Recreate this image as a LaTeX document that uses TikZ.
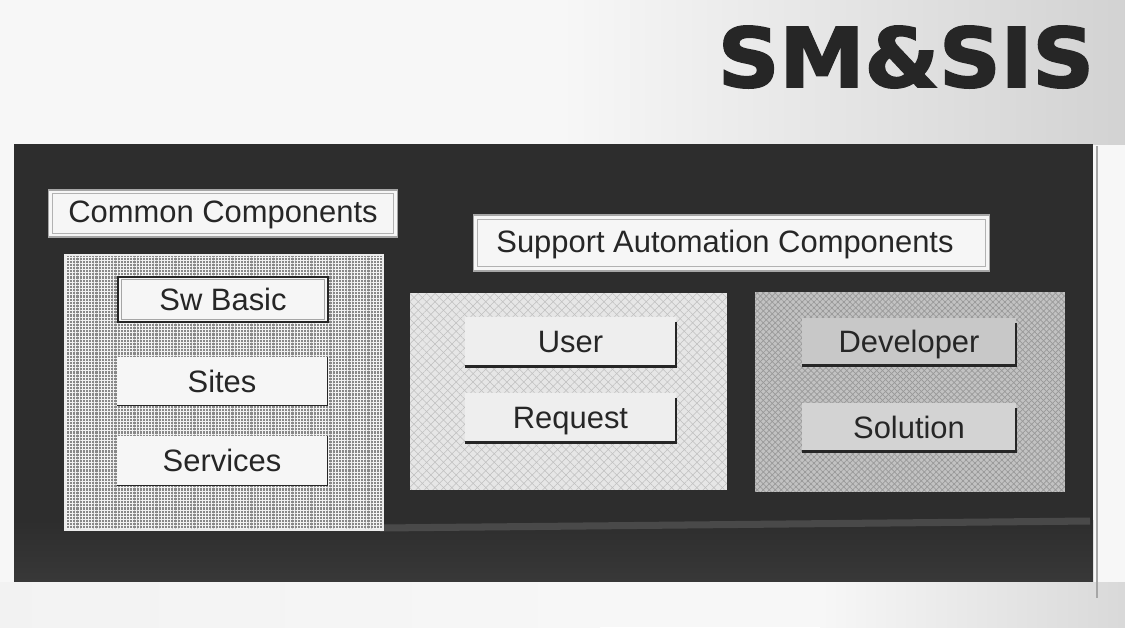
\documentclass[tikz,border=0pt]{standalone}
\usepackage{fontspec}
\setmainfont{Liberation Sans}
\newfontfamily\titlefont[BoldFeatures={FakeBold=2.2}]{DejaVu Sans}
\usetikzlibrary{patterns.meta}

\definecolor{paper}{HTML}{F7F7F7}
\definecolor{board}{HTML}{2D2D2D}
\definecolor{boardlight}{HTML}{383838}
\definecolor{inkdark}{HTML}{262626}
\definecolor{meshgray}{HTML}{888888}
\definecolor{lightpanel}{HTML}{E6E6E6}
\definecolor{midpanel}{HTML}{C2C2C2}
\definecolor{btnwhite}{HTML}{F6F6F6}
\definecolor{btnlight}{HTML}{EEEEEE}
\definecolor{btngray}{HTML}{C8C8C8}
\definecolor{btngray2}{HTML}{D3D3D3}

\begin{document}
\begin{tikzpicture}[x=0.02cm, y=-0.02cm,
  txt/.style={font=\fontsize{17.6}{20}\selectfont, text=inkdark, text height=12.6pt, text depth=0pt},
  board/.style={fill=board, inner sep=0pt},
  tag/.style={fill=btnwhite, draw=gray!70, line width=0.6pt, inner sep=0pt, txt},
  gridpanel/.style={inner sep=0pt,
    preaction={fill=meshgray},
    postaction={pattern={Lines[angle=0,distance=1.8pt,line width=0.55pt]}, pattern color=white!90!gray},
    postaction={pattern={Lines[angle=90,distance=1.8pt,line width=0.55pt]}, pattern color=white!90!gray},
    postaction={draw=white!85!gray, line width=1.2pt}},
  hatchlight/.style={inner sep=0pt,
    preaction={fill=lightpanel},
    postaction={pattern={Lines[angle=45,distance=3.4pt,line width=0.3pt]}, pattern color=gray!50},
    postaction={pattern={Lines[angle=-45,distance=3.4pt,line width=0.3pt]}, pattern color=gray!50}},
  hatchmid/.style={inner sep=0pt,
    preaction={fill=midpanel},
    postaction={pattern={Lines[angle=45,distance=2.4pt,line width=0.4pt]}, pattern color=gray!80},
    postaction={pattern={Lines[angle=-45,distance=2.4pt,line width=0.4pt]}, pattern color=gray!80}},
  btn/.style={inner sep=0pt, txt},
  edge/.style={draw=inkdark, line width=1.3pt},
]
\useasboundingbox (0,0) rectangle (1125,627);

% paper and its grey haze
\fill[paper] (0,0) rectangle (1125,627);
\shade[left color=paper, right color=gray!35] (560,0) rectangle (1125,144);
\shade[left color=paper, right color=gray!30] (820,582) rectangle (1125,627);
\shade[left color=gray!10, right color=paper] (0,582) rectangle (600,627);

% title
\node[font=\titlefont\bfseries\fontsize{46.8}{50}\selectfont, text=inkdark, xscale=1.04, inner sep=0pt]
  (title) at (906,57) {SM\&SIS};

% dark board with its lighter lower strip
\node[board, minimum width=21.58cm, minimum height=8.74cm] (frame) at (553.5,362.5) {};
\shade[top color=board, bottom color=boardlight] (14,520) rectangle (1093,581);
\draw[white!30!board, line width=4pt, opacity=0.45] (380,528) -- (1090,521);
\draw[gray!70, line width=0.8pt] (1097,146) -- (1097,598);

% common components
\node[tag, minimum width=7.0cm, minimum height=0.94cm] (cc) at (223,213.5) {\raisebox{1pt}{Common Components}};
\draw[gray!60, line width=0.5pt] ([shift={(5,4)}]cc.north west) rectangle ([shift={(-5,-4)}]cc.south east);

\node[gridpanel, minimum width=6.36cm, minimum height=5.5cm] (left) at (224,392.5) {};

\node[btn, fill=btnwhite, draw=inkdark, line width=1.4pt, minimum width=4.2cm, minimum height=0.9cm]
  (sw) at (223,299.5) {Sw Basic};
\draw[gray!70, line width=0.5pt] ([shift={(5,4)}]sw.north west) rectangle ([shift={(-5,-4)}]sw.south east);

\node[btn, fill=btnwhite, minimum width=4.2cm, minimum height=0.96cm] (sites) at (222,381) {Sites};
\draw[edge, line width=0.9pt] (sites.south west) -- (sites.south east) -- (sites.north east);
\node[btn, fill=btnwhite, minimum width=4.2cm, minimum height=0.98cm] (services) at (222,460.5) {Services};
\draw[edge, line width=0.9pt] (services.south west) -- (services.south east) -- (services.north east);

% support automation components
\node[tag, minimum width=10.34cm, minimum height=1.12cm] (sa) at (731.5,243)
  {\hspace*{-0.26cm}\raisebox{1pt}{Support Automation Components}};
\draw[gray!60, line width=0.5pt] ([shift={(5,5)}]sa.north west) rectangle ([shift={(-5,-5)}]sa.south east);

\node[hatchlight, minimum width=6.34cm, minimum height=3.94cm] (mid) at (568.5,391.5) {};
\node[btn, fill=btnlight, minimum width=4.22cm, minimum height=0.98cm] (user) at (570.5,341.5) {User};
\draw[edge] (user.south west) -- (user.south east) -- ([yshift=-3]user.north east);
\node[btn, fill=btnlight, minimum width=4.22cm, minimum height=0.98cm] (request) at (570.5,417.5) {Request};
\draw[edge] (request.south west) -- (request.south east) -- ([yshift=-3]request.north east);

\node[hatchmid, minimum width=6.2cm, minimum height=4.0cm] (right) at (910,392) {};
\node[btn, fill=btngray, minimum width=4.28cm, minimum height=0.94cm] (dev) at (909,341.5) {Developer};
\draw[edge] (dev.south west) -- (dev.south east) -- ([yshift=-3]dev.north east);
\node[btn, fill=btngray2, minimum width=4.28cm, minimum height=0.96cm] (sol) at (909,427) {Solution};
\draw[edge] (sol.south west) -- (sol.south east) -- ([yshift=-3]sol.north east);
\end{tikzpicture}
\end{document}
